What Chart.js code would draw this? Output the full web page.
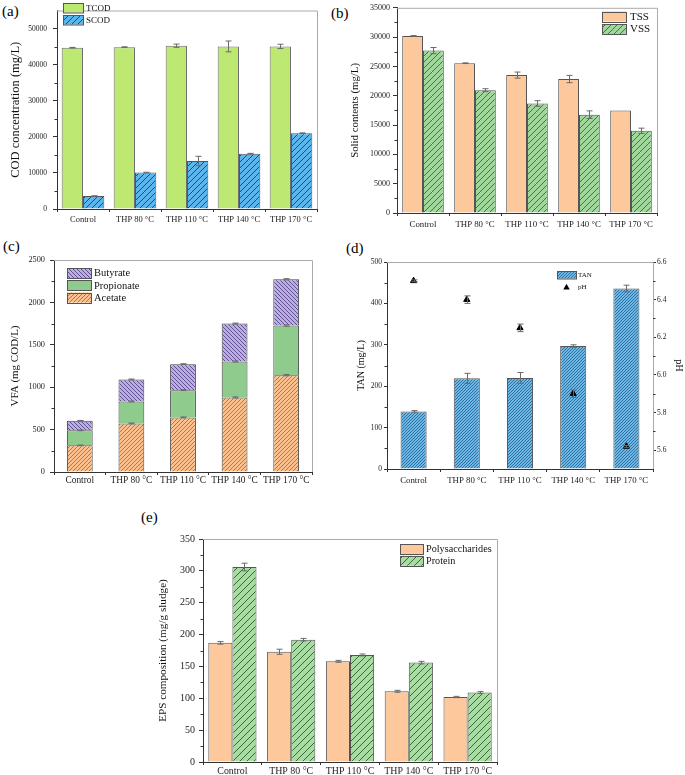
<!DOCTYPE html>
<html><head><meta charset="utf-8">
<script src="https://cdn.jsdelivr.net/npm/chart.js@4.4.0/dist/chart.umd.min.js"></script>
<style>
html,body{margin:0;padding:0;background:#fff;overflow:hidden;width:685px;height:775px;}
canvas{position:absolute;left:0;top:0;}
.lbl{position:absolute;font-family:"Liberation Serif","Times New Roman",serif;font-size:15px;line-height:15px;color:#000;}
</style></head><body>
<div class="lbl" style="left:2px;top:4px">(a)</div>
<div class="lbl" style="left:331px;top:6px">(b)</div>
<div class="lbl" style="left:3px;top:239px">(c)</div>
<div class="lbl" style="left:346px;top:241px">(d)</div>
<div class="lbl" style="left:141px;top:510px">(e)</div>
<canvas id="ca" width="685" height="775"></canvas>
<canvas id="cb" width="685" height="775"></canvas>
<canvas id="cc" width="685" height="775"></canvas>
<canvas id="cd" width="685" height="775"></canvas>
<canvas id="ce" width="685" height="775"></canvas>
<script>
// ---------- data ----------
const categories = ['Control', 'THP 80 °C', 'THP 110 °C', 'THP 140 °C', 'THP 170 °C'];

const tcod = [44700, 44850, 45250, 45050, 45050];
const tcodErr = [80, 100, 450, 1500, 600];
const scod = [3600, 10080, 13300, 15320, 21000];
const scodErr = [60, 100, 1300, 100, 100];

const tss = [30200, 25550, 23520, 22850, 17480];
const tssErr = [60, 60, 520, 620, 0];
const vss = [27700, 20950, 18680, 16770, 14020];
const vssErr = [530, 250, 480, 650, 450];

const acetate = [314, 573, 644, 879, 1142];
const acetateErr = [4, 5, 5, 6, 8];
const propionate = [177, 259, 321, 424, 585];
const propionateErr = [4, 5, 5, 6, 8];
const butyrate = [113, 259, 307, 447, 545];
const butyrateErr = [4, 5, 5, 6, 8];

const tan = [139, 219, 220, 297, 436];
const tanErr = [2, 12, 13, 3, 8];
const ph = [6.50, 6.40, 6.25, 5.90, 5.62];
const phErr = [0.005, 0.02, 0.02, 0.02, 0.005];

const polysaccharides = [187, 173, 158, 111, 102];
const polysaccharidesErr = [2, 4, 1.5, 1.5, 1];
const protein = [306, 192, 168, 156, 109];
const proteinErr = [6, 2, 1.5, 2, 1.5];

const ticksA = [0, 10000, 20000, 30000, 40000, 50000];
const ticksB = [0, 5000, 10000, 15000, 20000, 25000, 30000, 35000];
const ticksC = [0, 500, 1000, 1500, 2000, 2500];
const ticksD = [0, 100, 200, 300, 400, 500];
const ticksPH = [5.6, 5.8, 6.0, 6.2, 6.4, 6.6];
const ticksE = [0, 50, 100, 150, 200, 250, 300, 350];

// ---------- helpers ----------
const serif = '"Liberation Serif","Times New Roman",serif';
const W = 685, H = 775;

function hatch(bg, fg, dir, s, lw) {
  const c = document.createElement('canvas'); c.width = s; c.height = s;
  const x = c.getContext('2d');
  x.fillStyle = bg; x.fillRect(0, 0, s, s);
  x.strokeStyle = fg; x.lineWidth = lw;
  x.beginPath();
  if (dir === '/') {
    x.moveTo(0, s); x.lineTo(s, 0);
    x.moveTo(-1, 1); x.lineTo(1, -1);
    x.moveTo(s - 1, s + 1); x.lineTo(s + 1, s - 1);
  } else {
    x.moveTo(0, 0); x.lineTo(s, s);
    x.moveTo(-1, s - 1); x.lineTo(1, s + 1);
    x.moveTo(s - 1, -1); x.lineTo(s + 1, 1);
  }
  x.stroke();
  return x.createPattern(c, 'repeat');
}

const cTCOD = '#bde872';
const pSCOD = hatch('#5cb6ee', '#1e4c78', '/', 6, 1);
const cTSS = '#fcc89c';
const pVSS = hatch('#a0d89c', '#3c7a3c', '/', 6, 1);
const pAcetate = hatch('#fbc08e', '#b86a30', '/', 4, 0.9);
const cPropionate = '#90cb8e';
const pButyrate = hatch('#bcaee0', '#54458a', '\\', 4, 0.9);
const pTAN = hatch('#6ab8e8', '#2a5c88', '/', 3, 0.8);
const cPoly = '#fdc89c';
const pProtein = hatch('#a8dca2', '#356b35', '/', 7, 1);

function yScale(o) {
  return {
    type: 'linear', position: o.pos || 'left', min: o.min, max: o.max,
    stacked: !!o.stacked,
    afterBuildTicks: s => { s.ticks = o.ticks.map(v => ({ value: v })); },
    afterFit: s => { s.width = o.width; },
    grid: { drawOnChartArea: false, drawTicks: true, tickLength: o.tl, color: '#333', lineWidth: 1 },
    border: { display: true, color: '#333', width: 1 },
    ticks: { font: { family: serif, size: o.tickSize }, color: '#222', padding: o.pad,
             callback: o.cb || (v => String(v)) },
    title: { display: true, text: o.title, font: { family: serif, size: o.titleSize }, color: '#111',
             padding: { top: 0, bottom: 0 } }
  };
}
function xScale(o) {
  return {
    type: 'category', stacked: !!o.stacked,
    afterFit: s => { s.height = o.h; },
    grid: { drawOnChartArea: false, drawTicks: true, tickLength: 3, color: '#333', offset: true },
    border: { display: true, color: '#333', width: 1 },
    ticks: { font: { family: serif, size: o.size }, color: '#222', padding: o.pad,
             maxRotation: 0, minRotation: 0, autoSkip: false }
  };
}

const framePlugin = {
  id: 'frame',
  afterDraw(chart) {
    const a = chart.chartArea, c = chart.ctx;
    c.save(); c.strokeStyle = '#aaa'; c.lineWidth = 1;
    c.beginPath();
    c.moveTo(a.left, a.top + 0.5); c.lineTo(a.right + 0.5, a.top + 0.5); c.lineTo(a.right + 0.5, a.bottom);
    c.stroke(); c.restore();
  }
};
function minorPlugin(axes) {
  return {
    id: 'minor',
    afterDraw(chart) {
      const c = chart.ctx, a = chart.chartArea;
      c.save(); c.strokeStyle = '#333'; c.lineWidth = 1;
      axes.forEach(id => {
        const s = chart.scales[id]; const t = s.ticks;
        for (let i = 0; i < t.length - 1; i++) {
          const p = Math.round(s.getPixelForValue((t[i].value + t[i + 1].value) / 2)) + 0.5;
          c.beginPath();
          if (s.position === 'right') { c.moveTo(a.right, p); c.lineTo(a.right + 2.5, p); }
          else { c.moveTo(a.left - 2.5, p); c.lineTo(a.left, p); }
          c.stroke();
        }
      });
      c.restore();
    }
  };
}
const errPlugin = {
  id: 'errbars',
  afterDatasetsDraw(chart) {
    const c = chart.ctx;
    c.save(); c.strokeStyle = '#6a6a6a'; c.lineWidth = 1;
    chart.data.datasets.forEach((ds, i) => {
      if (!ds.errors) return;
      const meta = chart.getDatasetMeta(i); const sc = meta.vScale;
      meta.data.forEach((el, j) => {
        const e = ds.errors[j]; if (!e) return;
        const v = sc.getValueForPixel(el.y);
        const y1 = sc.getPixelForValue(v + e), y2 = sc.getPixelForValue(v - e);
        const x = Math.round(el.x) + 0.5;
        c.beginPath();
        c.moveTo(x, y1); c.lineTo(x, y2);
        c.moveTo(x - 3, y1); c.lineTo(x + 3, y1);
        c.moveTo(x - 3, y2); c.lineTo(x + 3, y2);
        c.stroke();
      });
    });
    c.restore();
  }
};
function legendPlugin(cfg) {
  return {
    id: 'boxlegend',
    afterDraw(chart) {
      const c = chart.ctx;
      c.save();
      c.font = cfg.size + 'px ' + serif; c.textBaseline = 'middle'; c.textAlign = 'left';
      cfg.items.forEach((it, k) => {
        const y = cfg.y + k * cfg.row;
        if (it.tri) {
          const cx = cfg.x + cfg.w / 2 + (it.dx || 0), cy = y + cfg.h / 2;
          c.fillStyle = '#000'; c.beginPath();
          c.moveTo(cx, cy - 3.2); c.lineTo(cx + 3.2, cy + 2.4); c.lineTo(cx - 3.2, cy + 2.4); c.closePath(); c.fill();
          c.fillStyle = '#111'; c.fillText(it.label, cfg.tx, cy);
          return;
        }
        const ds = chart.data.datasets[it.ds];
        c.fillStyle = ds.backgroundColor; c.fillRect(cfg.x, y, cfg.w, cfg.h);
        c.strokeStyle = '#555'; c.lineWidth = 1;
        c.strokeRect(Math.round(cfg.x) + 0.5, Math.round(y) + 0.5, cfg.w, cfg.h);
        c.fillStyle = '#111'; c.fillText(ds.label, cfg.tx, y + cfg.h / 2 + 0.5);
      });
      c.restore();
    }
  };
}
function baseOpts(pad, scales, extraPlugins) {
  return {
    responsive: false, animation: false, events: [],
    layout: { padding: pad },
    scales: scales,
    plugins: Object.assign({ legend: { display: false }, tooltip: { enabled: false } }, extraPlugins || {})
  };
}
function barDs(label, data, errs, bg, cp, extra) {
  return Object.assign({ label: label, data: data, errors: errs, backgroundColor: bg, borderColor: '#555',
    borderWidth: 1, categoryPercentage: cp, barPercentage: 1 }, extra || {});
}

// ---------- (a) ----------
new Chart(document.getElementById('ca'), {
  type: 'bar',
  data: { labels: categories, datasets: [
    barDs('TCOD', tcod, tcodErr, cTCOD, 0.82, { borderColor: '#6f6f6f' }),
    barDs('SCOD', scod, scodErr, pSCOD, 0.82)
  ] },
  options: baseOpts({ left: 8.5, top: 0, right: W - 317, bottom: H - 209 - 20 }, {
    x: xScale({ h: 20, size: 8.5, pad: 3 }),
    y: yScale({ min: 0, max: 55000, ticks: ticksA, width: 57 - 8.5, tl: 4, pad: 6, tickSize: 7.5,
                title: 'COD concentration (mg/L)', titleSize: 12.5 })
  }),
  plugins: [framePlugin, minorPlugin(['y']), errPlugin,
    legendPlugin({ x: 63, y: 3, w: 20, h: 9.5, row: 12, tx: 86, size: 9, items: [{ ds: 0 }, { ds: 1 }] })]
});

// ---------- (b) ----------
new Chart(document.getElementById('cb'), {
  type: 'bar',
  data: { labels: categories, datasets: [
    barDs('TSS', tss, tssErr, cTSS, 0.8),
    barDs('VSS', vss, vssErr, pVSS, 0.8)
  ] },
  options: baseOpts({ left: 348.5, top: 5, right: W - 657, bottom: H - 213 - 20 }, {
    x: xScale({ h: 20, size: 8.8, pad: 3 }),
    y: yScale({ min: 0, max: 35000, ticks: ticksB, width: 397 - 348.5, tl: 4, pad: 3, tickSize: 8,
                title: 'Solid contents (mg/L)', titleSize: 10.8 })
  }),
  plugins: [framePlugin, minorPlugin(['y']), errPlugin,
    legendPlugin({ x: 602, y: 11.5, w: 24, h: 10, row: 12.5, tx: 630, size: 11, items: [{ ds: 0 }, { ds: 1 }] })]
});

// ---------- (c) ----------
new Chart(document.getElementById('cc'), {
  type: 'bar',
  data: { labels: categories, datasets: [
    barDs('Acetate', acetate, acetateErr, pAcetate, 0.5, { borderColor: '#444' }),
    barDs('Propionate', propionate, propionateErr, cPropionate, 0.5, { borderColor: '#444' }),
    barDs('Butyrate', butyrate, butyrateErr, pButyrate, 0.5, { borderColor: '#444' })
  ] },
  options: baseOpts({ left: 8.4, top: 260, right: W - 312, bottom: H - 472 - 20 }, {
    x: xScale({ h: 20, size: 9.4, pad: 0, stacked: true }),
    y: yScale({ min: 0, max: 2500, ticks: ticksC, width: 54 - 8.4, tl: 4, pad: 5, tickSize: 8.3,
                title: 'VFA (mg COD/L)', titleSize: 11, stacked: true })
  }),
  plugins: [framePlugin, minorPlugin(['y']), errPlugin,
    legendPlugin({ x: 67, y: 268, w: 24, h: 10, row: 12.3, tx: 94, size: 10.5, items: [{ ds: 2 }, { ds: 1 }, { ds: 0 }] })]
});

// ---------- (d) ----------
new Chart(document.getElementById('cd'), {
  type: 'bar',
  data: { labels: categories, datasets: [
    barDs('TAN', tan, tanErr, pTAN, 0.49, { borderColor: '#555', yAxisID: 'y', order: 2 }),
    { type: 'line', label: 'pH', data: ph, errors: phErr, yAxisID: 'y1', showLine: false,
      pointStyle: 'triangle', pointRadius: 3.6, backgroundColor: '#000', borderColor: '#000', borderWidth: 1, order: 1 }
  ] },
  options: baseOpts({ left: 355, top: 262, right: 0, bottom: H - 469 - 20 }, {
    x: xScale({ h: 20, size: 8.8, pad: 3 }),
    y: yScale({ min: 0, max: 500, ticks: ticksD, width: 387 - 355, tl: 3, pad: 2, tickSize: 7.5,
                title: 'TAN (mg/L)', titleSize: 10 }),
    y1: yScale({ pos: 'right', min: 5.5, max: 6.6, ticks: ticksPH, width: W - 653, tl: 3, pad: 1, tickSize: 7.5,
                 title: 'pH', titleSize: 10.4, cb: v => v.toFixed(1) })
  }),
  plugins: [framePlugin, minorPlugin(['y', 'y1']), errPlugin,
    legendPlugin({ x: 557, y: 271, w: 19, h: 7.5, row: 12.3, tx: 578, size: 7, items: [{ ds: 0 }, { tri: true, label: 'pH', dx: 0 }] })]
});

// ---------- (e) ----------
new Chart(document.getElementById('ce'), {
  type: 'bar',
  data: { labels: categories, datasets: [
    barDs('Polysaccharides', polysaccharides, polysaccharidesErr, cPoly, 0.82),
    barDs('Protein', protein, proteinErr, pProtein, 0.82)
  ] },
  options: baseOpts({ left: 156.3, top: 539, right: W - 497, bottom: 0 }, {
    x: xScale({ h: H - 762, size: 9.9, pad: 0 }),
    y: yScale({ min: 0, max: 350, ticks: ticksE, width: 203 - 156.3, tl: 4, pad: 4, tickSize: 10,
                title: 'EPS composition (mg/g sludge)', titleSize: 11.2 })
  }),
  plugins: [framePlugin, minorPlugin(['y']), errPlugin,
    legendPlugin({ x: 400, y: 544, w: 23, h: 10, row: 11.8, tx: 426, size: 10.2, items: [{ ds: 0 }, { ds: 1 }] })]
});
</script>
</body></html>
